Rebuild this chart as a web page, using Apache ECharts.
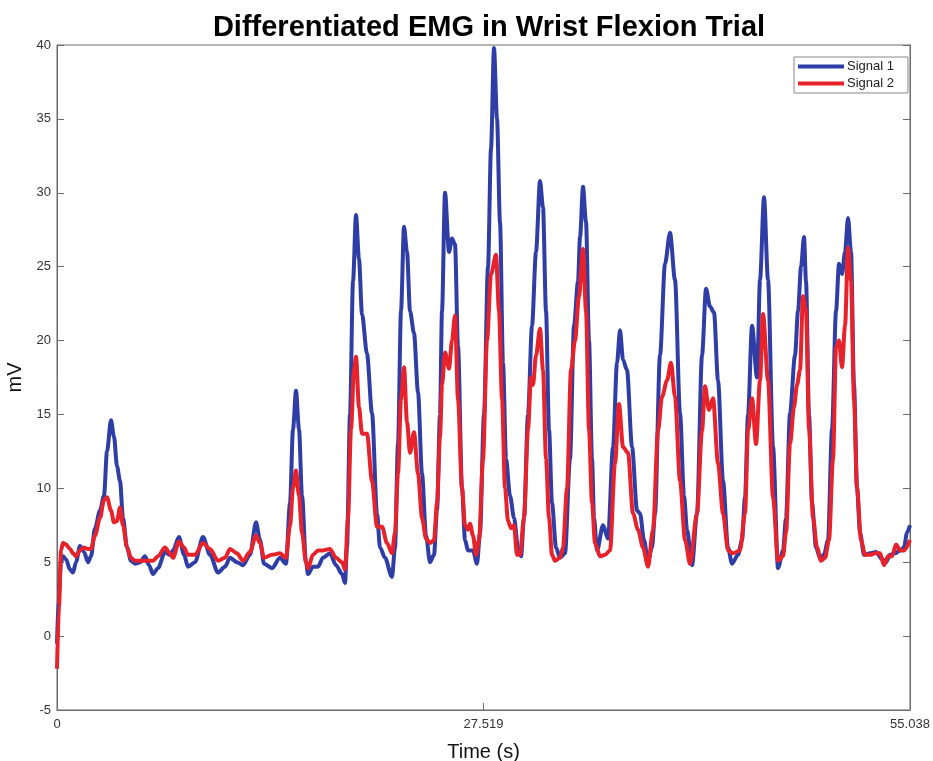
<!DOCTYPE html>
<html>
<head>
<meta charset="utf-8">
<script src="https://cdn.jsdelivr.net/npm/echarts@6/dist/echarts.min.js"></script>
<style>html,body{margin:0;padding:0;background:#fff;}#chart{width:933px;height:761px;}</style>
</head>
<body>
<div id="chart"></div>
<script>
const xTicks = [0, 27.519, 55.038];
const seriesNames = ['Signal 1', 'Signal 2'];

const timeSignal1 = [0.000,0.129,0.258,0.387,0.581,0.839,1.032,1.226,1.484,1.742,2.000,2.194,2.452,2.775,3.033,3.226,3.484,3.678,3.872,4.065,4.259,4.517,4.775,5.033,5.356,5.678,5.936,6.194,6.517,6.969,7.291,7.485,7.872,8.195,8.453,8.904,9.421,9.872,10.389,10.840,11.163,11.615,12.002,12.453,12.840,13.099,13.357,13.873,14.389,14.776,15.034,15.228,15.421,15.615,15.809,16.067,16.196,16.518,16.841,17.164,17.615,18.003,
  18.390,18.583,18.712,18.906,19.099,19.293,19.486,19.680,20.003,20.325,20.648,20.842,21.164,21.616,
  21.809,22.003,22.197,22.390,22.584,22.777,23.035,23.294,23.552,23.810,24.068,24.326,24.520,24.713,24.842,25.036,25.294,25.487,25.681,25.875,26.133,26.326,26.520,26.842,27.101,27.294,27.552,27.810,28.004,28.197,28.391,28.585,28.778,28.972,29.230,29.488,29.746,29.940,30.133,30.391,30.649,30.907,31.166,31.359,31.553,31.746,31.940,32.198,32.456,32.779,33.101,33.359,33.617,33.747,33.940,34.134,34.327,34.521,
  34.650,34.844,35.231,35.553,35.876,36.134,36.327,36.521,36.779,37.102,37.425,37.618,37.876,38.134,38.392,38.586,38.908,39.231,39.553,39.876,40.199,40.457,40.651,40.973,41.296,41.619,41.877,42.135,42.393,42.651,42.974,43.296,43.554,43.942,44.200,44.393,44.587,44.845,45.168,45.361,45.619,45.877,46.200,46.523,46.845,47.039,47.297,
  47.619,47.813,48.007,48.200,48.329,48.523,48.716,48.974,49.233,49.491,49.749,50.007,50.265,50.459,50.652,50.846,51.039,51.233,51.426,51.620,51.814,52.072,52.459,52.846,53.233,53.491,53.749,54.072,54.395,54.653,54.846,55.038];
const valuesSignal1 = [-0.5,3.0,5.0,5.4,5.2,4.5,4.3,5.0,6.1,5.7,5.0,5.4,7.3,8.5,9.5,12.5,14.6,13.5,11.5,10.5,8.0,6.0,5.1,4.9,5.0,5.4,4.8,4.2,4.6,5.7,5.5,5.8,6.7,5.5,4.7,5.0,6.7,5.5,4.3,4.7,5.3,5.0,4.8,5.5,7.7,6.5,4.9,4.6,5.3,4.9,9.0,14.0,16.6,14.0,9.5,5.0,4.2,4.7,4.7,5.3,5.6,4.8,
  4.2,3.6,6.0,15.0,24.0,28.5,25.5,21.8,19.1,15.1,8.3,6.0,5.3,4.0,
  6.0,13.0,22.0,27.7,26.0,22.0,20.5,16.5,11.0,6.8,5.0,5.5,8.5,15.0,22.0,30.0,26.0,26.9,26.5,19.6,10.0,6.5,5.8,5.8,4.9,7.0,15.0,25.0,33.0,39.8,35.0,28.0,18.5,12.0,9.5,8.0,6.0,5.4,8.0,15.0,21.0,26.0,30.8,29.0,22.0,14.0,9.0,6.0,5.3,5.6,12.0,21.0,24.0,27.0,30.4,28.0,20.0,12.0,
  8.0,5.8,7.5,6.6,12.8,18.5,20.7,18.7,18.0,12.8,8.5,8.3,6.5,5.1,6.0,8.3,19.0,25.2,27.3,24.1,15.1,9.5,7.2,4.8,8.3,19.0,23.5,22.3,21.9,17.3,10.5,6.0,4.9,5.5,6.5,9.4,15.0,21.0,17.5,24.1,29.7,24.1,12.8,4.6,5.8,8.0,15.1,
  19.0,22.0,25.0,27.0,24.0,15.0,9.0,6.0,5.3,5.5,6.5,14.0,22.0,25.2,24.5,26.0,28.3,26.0,17.0,10.0,7.0,5.5,5.6,5.7,5.2,5.0,5.5,5.6,5.8,6.0,7.0,7.5];

const timeSignal2 = [0.000,0.129,0.258,0.387,0.581,0.839,1.032,1.226,1.484,1.742,2.000,2.194,2.452,2.775,3.033,3.226,3.484,3.678,3.872,4.065,4.259,4.517,4.775,5.033,5.356,5.678,5.936,6.194,6.517,6.969,7.291,7.485,7.872,8.195,8.453,8.904,9.421,9.872,10.389,10.840,11.163,11.615,12.002,12.453,12.840,13.099,13.357,13.873,14.389,14.776,15.034,15.228,15.421,15.615,15.809,16.067,16.196,16.518,16.841,17.164,17.615,18.003,
  18.390,18.583,18.777,18.970,19.164,19.293,19.486,19.680,20.003,20.325,20.648,20.971,21.293,21.616,
  21.809,22.003,22.197,22.390,22.584,22.777,23.035,23.294,23.552,23.810,24.068,24.326,24.520,24.713,24.842,25.036,25.294,25.487,25.681,25.875,26.133,26.326,26.520,26.649,26.842,27.036,27.230,27.488,27.746,28.004,28.326,28.520,28.714,28.907,29.101,29.294,29.488,29.681,29.875,30.133,30.391,30.585,30.714,30.907,31.166,31.359,31.553,31.746,31.940,32.133,32.456,32.649,32.908,33.166,33.424,33.682,33.940,34.134,34.327,34.521,
  34.714,35.037,35.360,35.682,36.005,36.263,36.521,36.844,37.166,37.489,37.812,38.134,38.457,38.780,39.038,39.360,39.618,39.876,40.199,40.522,40.844,41.296,41.619,41.812,42.070,42.328,42.651,42.974,43.296,43.619,44.071,44.393,44.587,44.845,45.103,45.361,45.555,45.877,46.200,46.523,46.845,47.039,47.297,47.555,
  47.748,47.942,48.136,48.329,48.523,48.781,49.039,49.297,49.555,49.813,50.071,50.265,50.459,50.652,50.846,51.039,51.233,51.426,51.620,51.878,52.136,52.459,52.782,53.104,53.362,53.620,53.878,54.136,54.395,54.653,55.038];
const valuesSignal2 = [-2.2,2.0,5.8,6.3,6.2,5.9,5.6,5.4,5.8,6.0,5.9,5.9,6.8,8.0,9.2,9.4,8.5,7.7,7.8,8.7,7.5,6.0,5.3,5.1,5.1,5.1,5.1,5.1,5.4,6.0,5.6,5.3,6.4,6.0,5.5,5.5,6.3,5.9,5.1,5.3,5.9,5.6,5.1,5.7,6.8,6.3,5.3,5.5,5.6,5.3,7.5,10.0,11.2,9.5,7.0,5.0,4.6,5.5,5.8,5.8,5.9,5.3,
  5.0,4.5,8.0,14.0,18.0,18.9,15.5,13.7,13.7,10.5,7.4,7.4,6.3,5.6,
  7.0,11.0,16.0,18.2,14.5,12.4,13.8,11.0,8.0,6.6,6.3,6.5,9.0,13.5,17.0,19.2,18.1,20.0,21.7,16.0,10.0,7.5,7.2,7.6,6.8,5.5,6.5,12.0,20.0,24.5,25.8,22.0,16.0,10.0,7.8,7.3,7.5,5.5,5.5,8.0,14.0,17.5,17.0,19.0,20.8,18.0,12.0,8.0,5.5,5.1,5.3,6.0,10.0,18.0,20.0,23.0,26.2,22.0,14.0,9.0,
  6.3,5.4,5.5,5.8,11.7,15.7,12.8,12.4,8.3,7.2,6.0,4.7,7.2,13.9,16.2,17.3,18.5,16.2,10.5,6.5,4.9,8.3,13.9,16.9,15.3,16.1,11.7,8.3,5.8,5.6,5.8,8.3,13.9,16.1,13.0,17.3,21.8,17.3,9.4,5.1,5.4,7.0,13.0,15.5,
  17.0,18.0,23.0,22.0,14.0,8.0,6.0,5.1,5.3,6.5,12.0,19.5,20.0,18.2,21.0,26.3,24.0,16.0,10.0,6.5,5.5,5.5,5.6,5.6,4.8,5.4,5.4,6.2,5.8,5.8,6.5];

const pairs = (t, v) => t.map((x, i) => [x, v[i]]);

const chart = echarts.init(document.getElementById('chart'));
const axisColor = '#6a6a6a';
const labelFont = { fontFamily: 'Liberation Sans', fontSize: 13, color: '#333' };
chart.setOption({
  backgroundColor: '#fff',
  animation: false,
  title: {
    text: 'Differentiated EMG in Wrist Flexion Trial',
    left: 484, top: 8, textAlign: 'center',
    textStyle: { fontFamily: 'Liberation Sans', fontWeight: 'bold', fontSize: 29, color: '#000' }
  },
  legend: {
    data: seriesNames,
    orient: 'vertical',
    right: 25, top: 57,
    icon: 'rect', itemWidth: 46, itemHeight: 4, itemGap: 4,
    borderColor: '#888', borderWidth: 1, padding: [3, 14, 3, 4],
    backgroundColor: '#fff',
    textStyle: { fontFamily: 'Liberation Sans', fontSize: 13, lineHeight: 12, color: '#222', padding: [0, 0, 0, -2] }
  },
  grid: { left: 57, right: 23, top: 45, bottom: 51, outerBoundsMode: 'none', containLabel: false,
    show: true, borderColor: axisColor, borderWidth: 1, backgroundColor: 'transparent' },
  xAxis: {
    type: 'value', min: 0, max: 55.038, interval: 27.519,
    name: 'Time (s)', nameLocation: 'middle', nameGap: 32,
    nameTextStyle: { fontFamily: 'Liberation Sans', fontSize: 20, color: '#111' },
    axisLine: { show: true, onZero: false, lineStyle: { color: axisColor } },
    axisTick: { show: true, inside: true, length: 7, lineStyle: { color: axisColor } },
    splitLine: { show: false },
    axisLabel: Object.assign({ margin: 8, showMinLabel: true, showMaxLabel: true,
      formatter: v => { const k = xTicks.find(t => Math.abs(t - v) < 1e-6); return k === undefined ? '' : String(k); } }, labelFont)
  },
  yAxis: [{
    type: 'value', min: -5, max: 40, interval: 5,
    name: 'mV', nameLocation: 'middle', nameGap: 28, nameRotate: 90,
    nameTextStyle: { fontFamily: 'Liberation Sans', fontSize: 20, color: '#111' },
    axisLine: { show: true, onZero: false, lineStyle: { color: axisColor } },
    axisTick: { show: true, inside: true, length: 7, lineStyle: { color: axisColor } },
    splitLine: { show: false },
    axisLabel: Object.assign({ margin: 6 }, labelFont)
  }, {
    type: 'value', min: -5, max: 40, interval: 5, position: 'right',
    axisLine: { show: true, onZero: false, lineStyle: { color: axisColor } },
    axisTick: { show: true, inside: true, length: 7, lineStyle: { color: axisColor } },
    splitLine: { show: false },
    axisLabel: { show: false }
  }],
  series: [{
    name: seriesNames[0], type: 'line', data: pairs(timeSignal1, valuesSignal1),
    showSymbol: false, smooth: 0.3, smoothMonotone: 'x',
    lineStyle: { width: 4, color: '#2f3ea6' }, itemStyle: { color: '#2f3ea6' }, z: 2
  }, {
    name: seriesNames[1], type: 'line', data: pairs(timeSignal2, valuesSignal2),
    showSymbol: false, smooth: 0.3, smoothMonotone: 'x',
    lineStyle: { width: 4, color: '#e8222b' }, itemStyle: { color: '#e8222b' }, z: 3
  }]
});
</script>
</body>
</html>
